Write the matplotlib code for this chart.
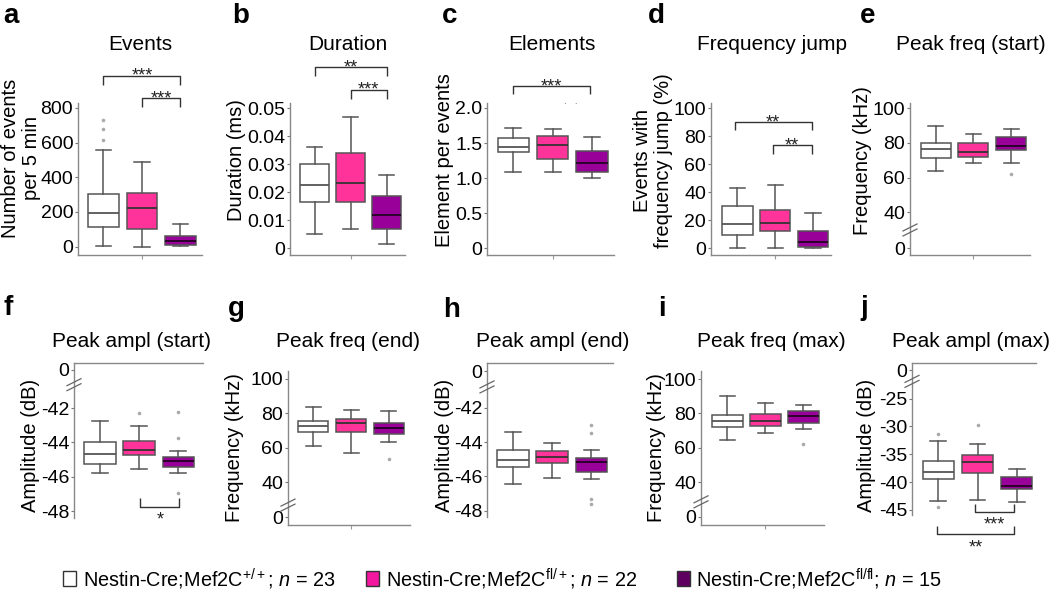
import matplotlib
matplotlib.use('Agg')
import matplotlib.pyplot as plt
from matplotlib.lines import Line2D
from matplotlib.patches import Rectangle
from matplotlib import font_manager

W, H = 1050, 593

# ---------------- data ----------------
groups = ['Nestin-Cre;Mef2C+/+', 'Nestin-Cre;Mef2Cfl/+', 'Nestin-Cre;Mef2Cfl/fl']
legend_sup = ['+/+', 'fl/+', 'fl/fl']
legend_n = [23, 22, 15]

box_colors = ['#ffffff', '#ff3399', '#990099']
median_colors = ['#555555', '#333333', '#220022']
legend_colors = ['#ffffff', '#f2179e', '#5e0060']

# a  Events
events_med = [193, 222, 35]
events_q1 = [116, 104, 12]
events_q3 = [302, 308, 62]
events_lo = [5, 0, 4]
events_hi = [555, 486, 129]
events_fl = [[617, 678, 728], [], []]

# b  Duration
dur_med = [0.0224, 0.0232, 0.0119]
dur_q1 = [0.0165, 0.0164, 0.0067]
dur_q3 = [0.0299, 0.0340, 0.0187]
dur_lo = [0.0050, 0.0069, 0.0015]
dur_hi = [0.0360, 0.0467, 0.0260]
dur_fl = [[], [], []]

# c  Elements
elem_med = [1.448, 1.476, 1.214]
elem_q1 = [1.371, 1.276, 1.081]
elem_q3 = [1.571, 1.595, 1.381]
elem_lo = [1.086, 1.086, 1.00]
elem_hi = [1.714, 1.695, 1.59]
elem_fl = [[], [], []]

# d  Frequency jump
jump_med = [17.4, 17.9, 4.8]
jump_q1 = [9.3, 12.1, 0.7]
jump_q3 = [30.2, 27.4, 12.6]
jump_lo = [0, 0, 0]
jump_hi = [42.9, 45.2, 24.8]
jump_fl = [[], [], []]

# e  Peak freq (start)
pfs_med = [76.5, 74.6, 78.3]
pfs_q1 = [71.3, 71.7, 75.6]
pfs_q3 = [79.8, 79.8, 83.3]
pfs_lo = [63.5, 68.5, 68.5]
pfs_hi = [89.8, 85.2, 88.1]
pfs_fl = [[], [], [62.3]]

# f  Peak ampl (start)
pas_med = [-44.66, -44.43, -45.10]
pas_q1 = [-45.24, -44.72, -45.44]
pas_q3 = [-44.00, -43.90, -44.82]
pas_lo = [-45.79, -45.55, -45.79]
pas_hi = [-42.78, -43.07, -44.52]
pas_fl = [[], [-42.29], [-42.25, -43.75, -46.95]]

# g  Peak freq (end)
pfe_med = [72.7, 74.6, 71.5]
pfe_q1 = [69.0, 69.0, 67.9]
pfe_q3 = [75.6, 76.9, 74.2]
pfe_lo = [61.2, 56.9, 63.1]
pfe_hi = [83.6, 81.7, 81.2]
pfe_fl = [[], [], [53.8]]

# h  Peak ampl (end)
pae_med = [-45.02, -44.87, -45.16]
pae_q1 = [-45.45, -45.24, -45.75]
pae_q3 = [-44.48, -44.52, -44.91]
pae_lo = [-46.47, -46.12, -46.16]
pae_hi = [-43.39, -44.03, -44.48]
pae_fl = [[], [], [-42.98, -43.48, -47.31, -47.62]]

# i  Peak freq (max)
pfm_med = [75.5, 75.7, 78.4]
pfm_q1 = [71.8, 72.6, 74.2]
pfm_q3 = [79.2, 79.6, 81.4]
pfm_lo = [64.5, 68.3, 70.7]
pfm_hi = [90.1, 85.8, 84.9]
pfm_fl = [[], [], [62.1]]

# j  Peak ampl (max)
pam_med = [-38.17, -36.43, -40.63]
pam_q1 = [-39.43, -38.41, -41.17]
pam_q3 = [-36.25, -35.05, -39.13]
pam_lo = [-43.33, -43.21, -43.51]
pam_hi = [-32.58, -33.12, -37.63]
pam_fl = [[-31.38, -44.41], [-29.82], []]

# significance brackets: (x1, x2, y_line, y_leg_end, label)
events_sig = [(1, 3, 986, 934, '***'), (2, 3, 854, 805, '***')]
dur_sig = [(1, 3, 0.0645, 0.0615, '**'), (2, 3, 0.0565, 0.0533, '***')]
elem_sig = [(1, 2.95, 2.31, 2.20, '***')]
jump_sig = [(0.93, 2.96, 89.8, 84.0, '**'), (1.94, 2.96, 73.3, 67.4, '**')]
pas_sig = [(2.03, 3.03, -47.73, -47.24, '*')]
pam_sig = [(1.94, 2.94, -45.3, -43.93, '***'), (0.97, 2.94, -49.3, -47.96, '**')]

# ---------------- fonts ----------------
avail = {f.name for f in font_manager.fontManager.ttflist}
plt.rcParams['font.family'] = ['Liberation Sans', 'DejaVu Sans']
if 'Liberation Sans Narrow' in avail:
    leg_family = 'Liberation Sans Narrow'
    leg_size = 16.5
else:
    leg_family = 'Liberation Sans'
    leg_size = 14.3
plt.rcParams['mathtext.fontset'] = 'custom'
plt.rcParams['mathtext.rm'] = leg_family
plt.rcParams['mathtext.it'] = leg_family + ':italic'

fig = plt.figure(figsize=(10.5, 5.93), dpi=100)


def rect(l, t, r, b):
    return [l / W, 1 - b / H, (r - l) / W, (b - t) / H]


def px(x, y):
    return x / W, 1 - y / H


SPINE = '#888888'


def add_break(ax, yval):
    x0, y0 = ax.transData.transform((ax.get_xlim()[0], yval))
    inv = fig.transFigure.inverted()
    for dy in (-2.5, 2.5):
        p = inv.transform([(x0 - 7, y0 + dy - 3.5), (x0 + 7, y0 + dy + 3.5)])
        fig.add_artist(Line2D(p[:, 0], p[:, 1], transform=fig.transFigure,
                              color='#666666', lw=0.9))


def add_bracket(ax, x1, x2, yl, yleg, label):
    ax.plot([x1, x1, x2, x2], [yleg, yl, yl, yleg], color='#333333', lw=1,
            clip_on=False, solid_capstyle='butt')
    below = yl < yleg
    ax.annotate(label, xy=((x1 + x2) / 2, yl),
                xytext=(0, -13 if below else -3.6), textcoords='offset points',
                ha='center', va='baseline', fontsize=13, color='#222222',
                annotation_clip=False)


def panel(r, ylim, xlim, yticks, yticklabels, med, q1, q3, lo, hi, fl,
          top_style=False, brk=None, sig=()):
    ax = fig.add_axes(rect(*r))
    stats = []
    for k in range(3):
        stats.append(dict(med=med[k], q1=q1[k], q3=q3[k], whislo=lo[k],
                          whishi=hi[k], fliers=fl[k], label=groups[k]))
    bp = ax.bxp(stats, positions=[1, 2, 3], widths=0.8, patch_artist=True,
                boxprops=dict(edgecolor='#555555', lw=1.1),
                whiskerprops=dict(color='#555555', lw=1.1),
                capprops=dict(color='#555555', lw=1.1),
                medianprops=dict(lw=1.3),
                flierprops=dict(marker='o', markersize=2.6,
                                markerfacecolor='#aaaaaa',
                                markeredgecolor='none'))
    for k, b in enumerate(bp['boxes']):
        b.set_facecolor(box_colors[k])
    for k, m in enumerate(bp['medians']):
        m.set_color(median_colors[k])
    ax.set_xlim(*xlim)
    ax.set_ylim(*ylim)
    ax.set_yticks(yticks)
    ax.set_yticklabels(yticklabels)
    ax.tick_params(axis='y', length=2.5, width=0.8, color='#777777', pad=1,
                   labelsize=14)
    for s in ax.spines.values():
        s.set_color(SPINE)
        s.set_linewidth(1)
    ax.spines['right'].set_visible(False)
    if top_style:
        ax.spines['bottom'].set_visible(False)
        ax.set_xticks([])
    else:
        ax.spines['top'].set_visible(False)
        ax.set_xticks([2])
        ax.set_xticklabels([''])
        ax.tick_params(axis='x', length=3, width=0.8, color='#999999')
    ax.set_facecolor('none')
    if brk is not None:
        add_break(ax, brk)
    for s in sig:
        add_bracket(ax, *s)
    return ax


axa = panel((78, 103, 202, 255), (-48, 828), (0.34, 3.56),
            [0, 200, 400, 600, 800], ['0', '200', '400', '600', '800'],
            events_med, events_q1, events_q3, events_lo, events_hi, events_fl,
            sig=events_sig)
axb = panel((290, 103, 405, 255), (-0.0024, 0.0518), (0.315, 3.51),
            [0, 0.01, 0.02, 0.03, 0.04, 0.05],
            ['0', '0.01', '0.02', '0.03', '0.04', '0.05'],
            dur_med, dur_q1, dur_q3, dur_lo, dur_hi, dur_fl, sig=dur_sig)
axc = panel((487, 103, 614, 255), (-0.095, 2.07), (0.333, 3.557),
            [0, 0.5, 1.0, 1.5, 2.0], ['0', '0.5', '1.0', '1.5', '2.0'],
            elem_med, elem_q1, elem_q3, elem_lo, elem_hi, elem_fl, sig=elem_sig)
axc.text(2.465, 2.095, '.   .', ha='center', va='center', fontsize=7,
         color='#555555', clip_on=False)
axd = panel((711, 103, 831, 255), (-4.8, 103.6), (0.30, 3.476),
            [0, 20, 40, 60, 80, 100], ['0', '20', '40', '60', '80', '100'],
            jump_med, jump_q1, jump_q3, jump_lo, jump_hi, jump_fl, sig=jump_sig)
axe = panel((910, 103, 1030, 255), (15.4, 102.9), (0.32, 3.50),
            [19.4, 40, 60, 80, 100], ['0', '40', '60', '80', '100'],
            pfs_med, pfs_q1, pfs_q3, pfs_lo, pfs_hi, pfs_fl, brk=29.8)
axf = panel((74, 363, 203, 518), (-48.39, -39.38), (0.34, 3.63),
            [-39.77, -42, -44, -46, -48], ['0', '-42', '-44', '-46', '-48'],
            pas_med, pas_q1, pas_q3, pas_lo, pas_hi, pas_fl, top_style=True,
            brk=-40.64, sig=pas_sig)
axg = panel((288, 371, 410, 525), (15.4, 104.4), (0.33, 3.56),
            [19.8, 40, 60, 80, 100], ['0', '40', '60', '80', '100'],
            pfe_med, pfe_q1, pfe_q3, pfe_lo, pfe_hi, pfe_fl, brk=26.9)
axh = panel((487, 363, 613, 517), (-48.38, -39.37), (0.34, 3.55),
            [-39.85, -42, -44, -46, -48], ['0', '-42', '-44', '-46', '-48'],
            pae_med, pae_q1, pae_q3, pae_lo, pae_hi, pae_fl, top_style=True,
            brk=-40.77)
axi = panel((701, 371, 824, 525), (15.0, 104.7), (0.307, 3.544),
            [19.8, 40, 60, 80, 100], ['0', '40', '60', '80', '100'],
            pfm_med, pfm_q1, pfm_q3, pfm_lo, pfm_hi, pfm_fl, brk=28.5)
axj = panel((912, 363, 1036, 515), (-45.9, -18.6), (0.33, 3.49),
            [-19.9, -25, -30, -35, -40, -45],
            ['0', '-25', '-30', '-35', '-40', '-45'],
            pam_med, pam_q1, pam_q3, pam_lo, pam_hi, pam_fl, top_style=True,
            brk=-21.9, sig=pam_sig)

# titles
titles = [('Events', 140, 50), ('Duration', 348, 50), ('Elements', 552, 50),
          ('Frequency jump', 772, 50), ('Peak freq (start)', 971, 50),
          ('Peak ampl (start)', 131, 347), ('Peak freq (end)', 348, 347),
          ('Peak ampl (end)', 553, 347), ('Peak freq (max)', 771, 347),
          ('Peak ampl (max)', 971, 347)]
for t, x, y in titles:
    fig.text(*px(x, y), t, ha='center', va='baseline', fontsize=15)

# y labels
ylabels = [('Number of events\nper 5 min', 21, 158), ('Duration (ms)', 236, 160),
           ('Element per events', 445, 160),
           ('Events with\nfrequency jump (%)', 653, 161),
           ('Frequency (kHz)', 862, 161), ('Amplitude (dB)', 30, 445),
           ('Frequency (kHz)', 235, 448), ('Amplitude (dB)', 445, 445),
           ('Frequency (kHz)', 656, 448), ('Amplitude (dB)', 866, 445)]
for t, x, y in ylabels:
    fig.text(*px(x, y), t, ha='center', va='center', rotation=90,
             fontsize=14.5, linespacing=1.1)

# panel letters
letters = [('a', 3, 23), ('b', 232, 23), ('c', 442, 23), ('d', 648, 23),
           ('e', 860, 23), ('f', 3, 315), ('g', 228, 316), ('h', 443, 317),
           ('i', 658, 316), ('j', 860, 315)]
for t, x, y in letters:
    fig.text(*px(x, y), t, ha='left', va='baseline', fontsize=20,
             fontweight='bold')

# legend
leg_sq_x = [63, 366, 677]
leg_txt_x = [83, 386, 696]
for k in range(3):
    fig.add_artist(Rectangle(px(leg_sq_x[k], 586), 13 / W, 15 / H,
                             transform=fig.transFigure,
                             facecolor=legend_colors[k], edgecolor='#333333',
                             lw=1))
    s = r'Nestin-Cre;Mef2C$^{\mathrm{%s}}$; $n$ = %d' % (legend_sup[k], legend_n[k])
    fig.text(*px(leg_txt_x[k], 579), s, ha='left', va='center',
             fontsize=leg_size, family=leg_family)

fig.savefig('out.png', dpi=100)
